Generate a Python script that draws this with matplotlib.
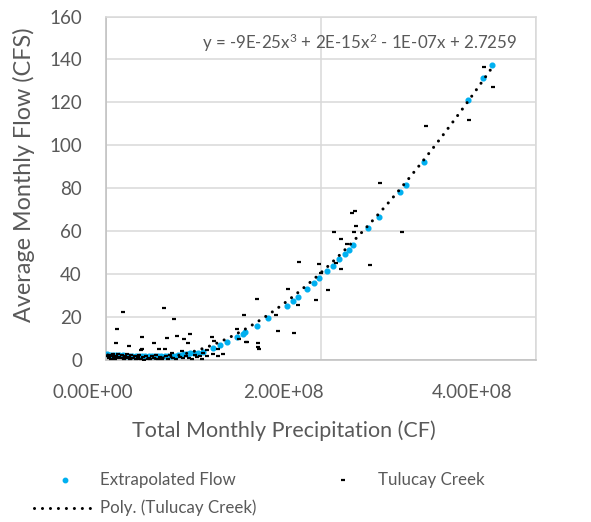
import numpy as np
import matplotlib
matplotlib.use("Agg")
import matplotlib.pyplot as plt
from matplotlib.lines import Line2D

plt.rcParams['font.family'] = ['Lato', 'DejaVu Sans']
plt.rcParams['mathtext.fontset'] = 'custom'
plt.rcParams['mathtext.rm'] = 'Lato'
plt.rcParams['mathtext.it'] = 'Lato'
plt.rcParams['mathtext.default'] = 'regular'

# ---------------- data (x in units of 1E8 CF) ----------------
tulucay_x = [
    0.02, 0.03, 0.04, 0.05, 0.06, 0.07, 0.08, 0.09, 0.10, 0.11, 0.12, 0.13, 0.14, 0.15,
    0.16, 0.17, 0.18, 0.19, 0.20, 0.22, 0.23, 0.24, 0.26, 0.27, 0.28, 0.30, 0.31, 0.33,
    0.35, 0.36, 0.38, 0.40, 0.41, 0.43, 0.45, 0.47, 0.49, 0.51, 0.53, 0.56, 0.58, 0.60,
    0.63, 0.66, 0.69, 0.72, 0.75, 0.78, 0.80, 0.83, 0.85, 0.88,
    0.163, 0.544, 0.107, 0.64, 0.34, 0.665, 0.572, 0.10, 0.22, 0.45, 0.50, 0.55, 0.333,
    0.786, 0.733, 0.77, 0.71, 0.988, 1.012, 1.05, 0.337, 0.616, 1.29, 1.226, 1.242,
    1.313, 1.42, 1.42, 1.43, 1.41, 0.91, 0.94, 0.947, 1.00, 1.05, 1.096, 0.895,
    1.803, 1.989, 1.70, 1.961, 2.07, 1.793, 1.586, 1.607, 1.753, 1.304, 2.005,
    2.553, 2.296, 2.324, 2.33, 2.128, 2.315, 2.755, 2.188, 2.244, 2.194, 2.46, 2.14,
    3.524, 3.607, 2.979, 3.384,
]
tulucay_y = [
    2.1, 1.2, 2.6, 0.8, 1.8, 2.9, 1.5, 0.6, 2.2, 1.0, 3.0, 1.6, 0.9, 2.4,
    1.3, 0.5, 2.0, 1.1, 2.7, 1.4, 0.7, 2.3, 1.0, 1.9, 0.4, 1.5, 2.6, 0.8,
    1.7, 0.3, 2.2, 1.1, 0.5, 1.8, 0.9, 2.5, 0.6, 1.4, 0.4, 1.9, 0.8, 2.4,
    1.2, 0.5, 1.6, 0.9, 2.1, 1.3, 0.7, 2.6, 1.5, 2.0,
    22.6, 24.5, 14.6, 19.2, 11.0, 11.5, 10.5, 7.9, 6.8, 8.2, 5.4, 5.4, 4.8,
    12.2, 10.0, 8.0, 4.5, 11.0, 9.1, 5.1, 5.1, 3.5, 21.1, 14.6, 9.9,
    8.7, 7.9, 6.3, 5.1, 28.5, 3.3, 2.0, 4.8, 2.8, 2.1, 2.8, 0.6,
    45.9, 45.0, 33.2, 28.1, 32.7, 25.8, 21.1, 13.8, 12.9, 8.4, 40.8,
    82.7, 68.7, 69.7, 62.5, 59.9, 59.9, 59.9, 56.5, 54.2, 42.7, 44.4, 45.2,
    136.3, 127.4, 109.1, 111.6,
]

extrap_x = [
    0.01, 0.04, 0.07, 0.10, 0.13, 0.16, 0.19, 0.22, 0.25, 0.28, 0.31, 0.34, 0.37, 0.40,
    0.43, 0.46, 0.49, 0.52, 0.55, 0.58, 0.61, 0.64, 0.67, 0.70, 0.73, 0.76, 0.79, 0.82,
    0.863, 0.91, 1.003, 1.065, 1.130, 1.223, 1.282, 1.298, 1.407, 1.514, 1.686, 1.747,
    1.793, 1.872, 1.940, 1.983, 2.063, 2.119, 2.175, 2.228, 2.268, 2.305, 2.445, 2.547,
    2.740, 2.795, 2.963, 3.375, 3.514, 3.595,
]
extrap_y = [
    2.7, 2.6, 2.5, 2.4, 2.3, 2.3, 2.2, 2.2, 2.1, 2.1, 2.1, 2.0, 2.0, 2.0,
    2.0, 2.0, 2.0, 2.0, 2.0, 2.1, 2.1, 2.2, 2.3, 2.5, 2.7, 3.0, 3.3, 3.6,
    3.3, 4.0, 5.6, 7.1, 8.5, 10.8, 12.2, 13.2, 16.0, 19.6, 25.3, 27.8,
    29.6, 33.1, 35.9, 38.2, 41.6, 43.9, 47.0, 49.5, 51.4, 53.7, 61.5, 66.9,
    78.4, 81.6, 92.5, 121.2, 131.3, 137.4,
]

# cubic trendline coefficients (per 1E8 CF units)
trend_coef = [-1.1495, 17.845, -12.18, 2.7259]
trend_range = [0.02, 3.607]

x_ticks = [0, 2e8, 4e8]
x_tick_labels = ["0.00E+00", "2.00E+08", "4.00E+08"]
y_ticks = [0, 20, 40, 60, 80, 100, 120, 140, 160]

SCALE = 1e8
TXT = '#595959'
BLUE = '#00B0F0'
GRID = '#d9d9d9'

W, H = 591, 522
fig = plt.figure(figsize=(W / 100, H / 100), dpi=100)
ax = fig.add_axes([105.5 / W, 1 - 360.3 / H, 430 / W, (360.3 - 16.5) / H])

ax.set_xlim(0, 4e8)
ax.set_ylim(0, 160)
ax.set_xticks(x_ticks)
ax.set_yticks(y_ticks)
ax.grid(True, color=GRID, lw=1.1)
ax.set_axisbelow(True)
for s in ['top', 'right']:
    ax.spines[s].set_color(GRID)
    ax.spines[s].set_linewidth(1.1)
ax.spines['left'].set_color('#bfbfbf')
ax.spines['bottom'].set_color('#bfbfbf')
ax.spines['left'].set_linewidth(1.1)
ax.spines['bottom'].set_linewidth(1.1)
ax.tick_params(length=0, labelbottom=False, labelsize=13.5, labelcolor=TXT, pad=17)

tx = np.array(tulucay_x) * SCALE
ex = np.array(extrap_x) * SCALE

ax.plot(ex, extrap_y, ls='none', marker='o', ms=3.4, color=BLUE, mec=BLUE, zorder=3)
ax.plot(tx, tulucay_y, ls='none', marker='_', ms=2.6, mew=1.6, color='black', zorder=4)

xx = np.linspace(trend_range[0], trend_range[1], 400)
yy = np.polyval(trend_coef, xx)
ax.plot(xx * SCALE, yy, color='black', lw=2.2, ls=(0, (0.01, 2.6)),
        dash_capstyle='round', zorder=5)

ax.text(517 / W, 1 - 43 / H, "y = -9E-25x$^{3}$ + 2E-15x$^{2}$ - 1E-07x + 2.7259",
        transform=fig.transFigure, ha='right', va='center', fontsize=12.2, color=TXT)

# x tick labels
for cx, lab in zip([92.5, 283, 472], x_tick_labels):
    fig.text(cx / W, 1 - 392 / H, lab, ha='center', va='center', fontsize=13.5, color=TXT)

fig.text(283.5 / W, 1 - 431 / H, "Total Monthly Precipitation (CF)", ha='center', va='center',
         fontsize=15.5, color=TXT)
fig.text(24 / W, 1 - 175 / H, "Average Monthly Flow (CFS)", ha='center', va='center',
         rotation=90, fontsize=16.8, color=TXT)

# legend
LFS = 12.2
fig.add_artist(Line2D([65 / W], [1 - 480 / H], transform=fig.transFigure, ls='none',
                      marker='o', ms=3.2, color=BLUE))
fig.text(100 / W, 1 - 480 / H, "Extrapolated Flow", ha='left', va='center', fontsize=LFS, color=TXT)
fig.add_artist(Line2D([343 / W], [1 - 480 / H], transform=fig.transFigure, ls='none',
                      marker='_', ms=2.6, mew=1.6, color='black'))
fig.text(378 / W, 1 - 480 / H, "Tulucay Creek", ha='left', va='center', fontsize=LFS, color=TXT)
fig.add_artist(Line2D([34 / W, 92 / W], [1 - 508 / H, 1 - 508 / H], transform=fig.transFigure,
                      color='black', lw=2.2, ls=(0, (0.01, 2.6)), dash_capstyle='round'))
fig.text(100 / W, 1 - 508 / H, "Poly. (Tulucay Creek)", ha='left', va='center', fontsize=LFS, color=TXT)

fig.savefig('out.png', dpi=100)
